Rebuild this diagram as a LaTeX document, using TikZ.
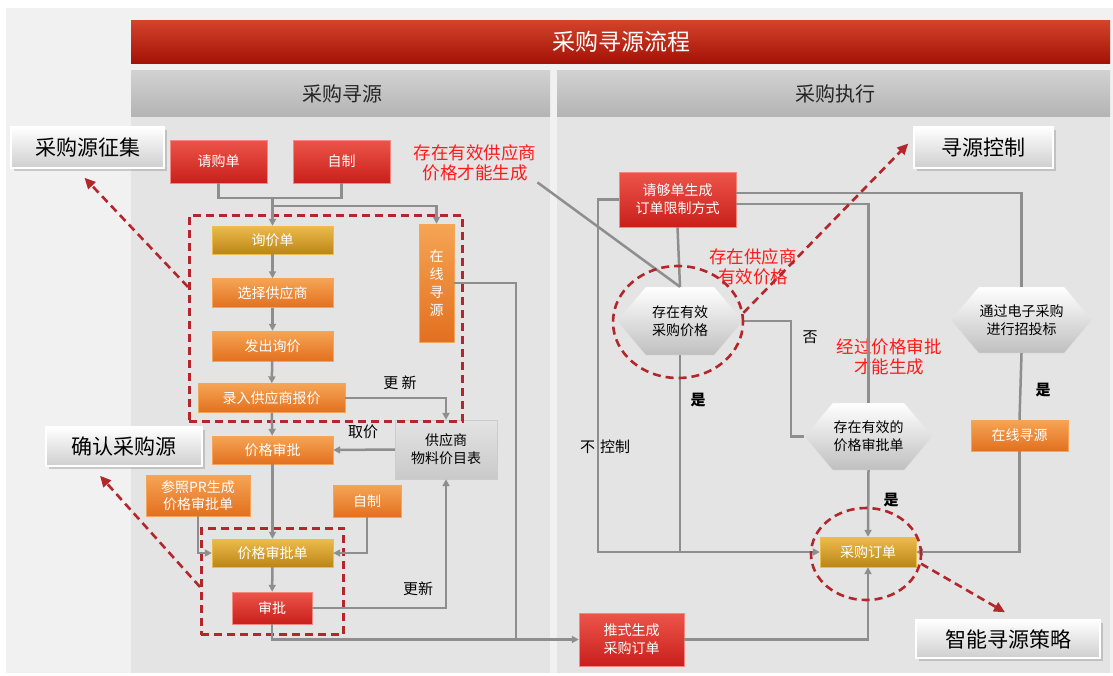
\documentclass[tikz,border=0pt]{standalone}
\usepackage{fontspec}
\setmainfont{Noto Sans CJK SC}
\usetikzlibrary{arrows.meta, calc, fit, shapes.geometric, shapes.symbols, shadows}

\definecolor{bgout}{HTML}{F1F1F1}
\definecolor{bgpanel}{HTML}{E4E4E4}
\definecolor{titT}{HTML}{D4442A}
\definecolor{titB}{HTML}{A31206}
\definecolor{hdT}{HTML}{D2D2D2}
\definecolor{hdB}{HTML}{B4B4B4}
\definecolor{redT}{HTML}{EC5549}
\definecolor{redB}{HTML}{C91F1C}
\definecolor{orgT}{HTML}{F5A555}
\definecolor{orgB}{HTML}{E2701F}
\definecolor{goldT}{HTML}{ECBC4C}
\definecolor{goldB}{HTML}{BB8517}
\definecolor{lineg}{HTML}{8E8E8E}
\definecolor{dashred}{HTML}{B3262B}
\definecolor{notered}{HTML}{FF1A1A}

\newcommand{\bxfont}{\fontsize{14}{18}\selectfont}
\newcommand{\ntfont}{\fontsize{17.5}{21}\selectfont}
\newcommand{\clfont}{\fontsize{21}{24}\selectfont}
\newcommand{\lbfont}{\fontsize{15}{17}\selectfont}
\newcommand{\hdfont}{\fontsize{20}{23}\selectfont}
\newcommand{\tlfont}{\fontsize{23}{26}\selectfont}

\begin{document}
\begin{tikzpicture}[x=1pt, y=-1pt]
\tikzset{every node/.style={align=center, inner sep=1pt},
  conn/.style={draw=lineg, line width=2.5pt},
  arr/.style={conn, -{Triangle[length=7pt, width=7pt]}},
  dashbox/.style={draw=dashred, line width=2.6pt, dash pattern=on 8pt off 5pt},
  dasharr/.style={dashbox, -{Triangle[length=11pt, width=10pt]}},
  redbox/.style={rectangle, draw=redT!70!white, top color=redT, bottom color=redB, text=white, font=\bxfont},
  orgbox/.style={rectangle, draw=orgT, top color=orgT, bottom color=orgB, text=white, font=\bxfont},
  goldbox/.style={rectangle, draw=goldT, top color=goldT, bottom color=goldB, text=white, font=\bxfont},
  listbox/.style={rectangle, draw=gray!40, top color=gray!22, bottom color=gray!42, text=black, font=\bxfont},
  hexbox/.style={signal, signal to=east and west, signal pointer angle=100, draw=white!80!gray, top color=white, bottom color=gray!50, text=black, font=\bxfont},
  callout/.style={rectangle, draw=white, line width=1.5pt, top color=white, bottom color=gray!38, drop shadow={opacity=0.35}, text=black, font=\clfont},
  note/.style={text=notered, font=\ntfont},
  lbl/.style={text=black, font=\lbfont}}

% Normalize bounding box
\useasboundingbox (0,0) rectangle (1113,675);
\fill[white] (0,0) rectangle (1113,675);
\fill[bgout] (6,8) rectangle (1113,673);
\fill[bgpanel] (131,116) rectangle (550,673);
\fill[bgpanel] (557,116) rectangle (1110,673);
\fill[top color=titT, bottom color=titB] (131,20) rectangle (1110,63);
\fill[top color=hdT, bottom color=hdB] (131,70) rectangle (550,116);
\fill[top color=hdT, bottom color=hdB] (557,70) rectangle (1110,116);
\node[text=white, font=\tlfont] (TITLE) at (621,42) {采购寻源流程};
\node[text=black!85, font=\hdfont] (HL) at (342,94) {采购寻源};
\node[text=black!85, font=\hdfont] (HR) at (835,94) {采购执行};

% callouts
\node[callout, minimum width=153, minimum height=41] (C1) at (87.5,147.5) {采购源征集};
\node[callout, minimum width=156, minimum height=39] (C2) at (124,446.5) {确认采购源};
\node[callout, minimum width=139, minimum height=41] (C3) at (983.5,147.5) {寻源控制};
\node[callout, minimum width=184, minimum height=38] (C4) at (1008,639) {智能寻源策略};

% sourcing side
\node[redbox, minimum width=97, minimum height=43] (REQ) at (218.5,161.5) {请购单};
\node[redbox, minimum width=97, minimum height=43] (MAKE) at (341.5,161.5) {自制};
\node[note] (N1) at (475,163) {存在有效供应商\\[-1pt]价格才能生成};
\node[goldbox, minimum width=121, minimum height=28] (RFQ) at (272.5,240) {询价单};
\node[orgbox, minimum width=121, minimum height=29] (SEL) at (272.5,293) {选择供应商};
\node[orgbox, minimum width=121, minimum height=30] (SEND) at (272.5,346) {发出询价};
\node[orgbox, minimum width=147, minimum height=29] (QUOTE) at (271.5,398) {录入供应商报价};
\node[orgbox, minimum width=35, minimum height=118] (ONLINE) at (436.5,283) {在\\线\\寻\\源};
\node[orgbox, minimum width=121, minimum height=28] (APPR) at (272.5,450) {价格审批};
\node[listbox, minimum width=102, minimum height=59] (LIST) at (446,449.5) {供应商\\物料价目表};
\node[orgbox, minimum width=104, minimum height=41, font=\fontsize{14}{17}\selectfont] (PR) at (198,495.5) {参照PR生成\\价格审批单};
\node[orgbox, minimum width=68, minimum height=32] (MAKE2) at (367,501) {自制};
\node[goldbox, minimum width=121, minimum height=28] (AFORM) at (272.5,553) {价格审批单};
\node[redbox, minimum width=80, minimum height=32] (OK) at (272,608) {审批};
\node[redbox, minimum width=105, minimum height=53] (PUSH) at (631.5,639.5) {推式生成\\采购订单};

\node[dashbox, rectangle, inner sep=8.5pt, fit=(QUOTE) (ONLINE) (RFQ)] (G1) {};
\node[dashbox, rectangle, inner sep=10.5pt, fit=(AFORM) (OK)] (G2) {};

\coordinate (J1) at (272.5,198);
\coordinate (J3) at (516,639.5);
\draw[conn] (REQ.south) |- (J1);
\draw[conn] (MAKE.south) |- (J1);
\draw[arr] (J1) -- (RFQ.north);
\draw[arr] ($(J1)+(0,8)$) -| (ONLINE.north);
\draw[arr] (RFQ) -- (SEL);
\draw[arr] (SEL) -- (SEND);
\draw[arr] (SEND) -- (QUOTE);
\draw[arr] (QUOTE) -- (APPR);
\draw[arr] (APPR) -- (AFORM);
\draw[arr] (AFORM) -- (OK);
\draw[arr] (QUOTE.east) -| (LIST.north);
\draw[arr] (LIST.west) -- (APPR.east);
\draw[arr] (PR.south) |- (AFORM.west);
\draw[arr] (MAKE2.south) |- (AFORM.east);
\draw[arr] (OK.east) -| (LIST.south);
\draw[conn] (ONLINE.east) -| (J3);
\draw[arr] (OK.south) |- (PUSH.west);
\node[lbl] (U1) at (400,383) {更 新};
\node[lbl] (U2) at (363,432) {取价};
\node[lbl] (U3) at (418,589) {更新};

% execution side
\node[redbox, minimum width=117, minimum height=55] (LIMIT) at (677.5,199.5) {请够单生成\\订单限制方式};
\node[hexbox, minimum width=126, minimum height=68] (HEX1) at (680,321) {存在有效\\采购价格};
\node[hexbox, minimum width=123, minimum height=67] (HEX2) at (868.5,436.5) {存在有效的\\价格审批单};
\node[hexbox, minimum width=125, minimum height=66] (HEX3) at (1021.5,320) {通过电子采购\\进行招投标};
\node[orgbox, minimum width=97, minimum height=31] (ONLINE2) at (1019.5,435.5) {在线寻源};
\node[goldbox, minimum width=96, minimum height=30] (PO) at (868,552) {采购订单};
\node[note] (N2) at (753,267) {存在供应商\\[-1pt]有效价格};
\node[note] (N3) at (889,357) {经过价格审批\\[-1pt]才能生成};

\coordinate (L1) at (598,0);
\coordinate (J2) at (791,0);
\draw[conn] (N1.south east) -- (HEX1.north);
\draw[conn] (LIMIT.south) -- (HEX1.north);
\draw[arr] (LIMIT.west) -- (LIMIT.west -| L1) |- (PO.west);
\draw[conn] ($(LIMIT.east)+(0,-6.5)$) -| (HEX3.north);
\draw[conn] ($(LIMIT.east)+(0,4.5)$) -| (HEX2.north);
\draw[conn] (HEX1.south) -- (HEX1.south |- PO.west);
\draw[conn] (HEX1.east) -| (HEX2.west -| J2) -- (HEX2.west);
\draw[arr] (HEX2.south) -- (PO.north);
\draw[conn] (HEX3.south) -- (ONLINE2.north);
\draw[arr] (ONLINE2.south) |- (PO.east);
\draw[arr] (PUSH.east) -| (PO.south);
\node[lbl] (NO) at (810,337) {否};
\node[lbl, font=\bfseries\lbfont] (Y1) at (698,400) {是};
\node[lbl, font=\bfseries\lbfont] (Y2) at (891,500) {是};
\node[lbl, font=\bfseries\lbfont] (Y3) at (1043,390) {是};
\node[lbl] (NC) at (605,447) {不\,\,控制};

% highlight rings and pointers
\node[dashbox, ellipse, minimum width=130, minimum height=112] (E1) at (678,322) {};
\node[dashbox, ellipse, minimum width=110, minimum height=92] (E2) at (866,554) {};
\draw[dasharr] ($(G1.north west)!0.35!(G1.south west)$) -- ($(C1.south)+(-3,9)$);
\draw[dasharr] ($(G2.north west)!0.55!(G2.south west)$) -- ($(C2.south)+(-24,9)$);
\draw[dasharr] (E1.8) -- ($(C3.west)+(-5,-4)$);
\draw[dasharr] (E2.-10) -- ($(C4.north)+(-3,-7)$);

\end{tikzpicture}
\end{document}
